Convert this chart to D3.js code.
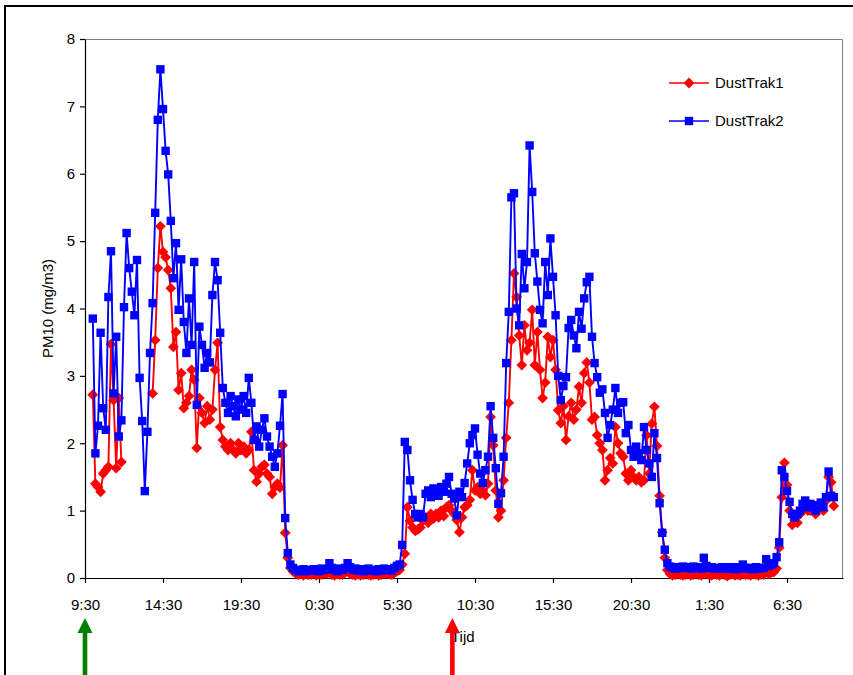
<!DOCTYPE html>
<html>
<head>
<meta charset="utf-8">
<title>PM10 DustTrak</title>
<script src="https://d3js.org/d3.v7.min.js"></script>
<style>
  body { margin: 0; background: #fff; }
  svg text { font-family: "Liberation Sans", Arial, sans-serif; font-size: 15px; fill: #000; }
</style>
</head>
<body>
<svg id="chart" width="853" height="675"></svg>
<script>
// time axis in hours after 9:30 on day 1, samples every 10 minutes from 10:00
const sampleStart = 0.5;
const sampleStep = 1 / 6;
const xMax = 48.59;

const xTicks = [0, 5, 10, 15, 20, 25, 30, 35, 40, 45];
const xTickLabels = ["9:30", "14:30", "19:30", "0:30", "5:30", "10:30", "15:30", "20:30", "1:30", "6:30"];
const yTicks = [0, 1, 2, 3, 4, 5, 6, 7, 8];

// start (green) and end (red) of something, in hours after 9:30
const arrowTimes = [0, 23.55];
const arrowColors = ["#008000", "#ff0000"];

const seriesNames = ["DustTrak1", "DustTrak2"];

// DustTrak1, one row per clock hour (null = no reading)
const dustTrak1 = [
  2.72, 1.4, 1.35, 1.28, 1.55, 1.6,      // 10:00
  1.65, 3.47, 2.64, 1.63, 2.67, 1.72,    // 11:00
  null, null, null, null, null, null,    // 12:00
  null, null, null, null, null, 2.74,    // 13:00
  3.53, 4.6, 5.22, 4.84, 4.76, 4.57,     // 14:00
  4.3, 3.43, 3.65, 2.79, 3.04, 2.52,     // 15:00
  2.6, 2.7, 3.09, 2.94, 1.93, 2.67,      // 16:00
  2.45, 2.3, 2.55, 2.35, 2.5, 3.09,      // 17:00
  3.49, 2.24, 2.05, 1.95, 1.9, 2.0,      // 18:00
  1.9, 1.85, 2.0, 1.9, 1.95, 1.85,       // 19:00
  1.9, 2.17, 1.6, 1.43, 1.55, 1.65,      // 20:00
  1.68, 1.55, 1.5, 1.25, 1.35, 1.4,      // 21:00
  1.34, 1.97, 0.67, 0.3, 0.15, 0.1,      // 22:00
  0.07, 0.05, 0.06, 0.04, 0.06, 0.05,    // 23:00
  0.05, 0.07, 0.04, 0.06, 0.05, 0.07,    // 0:00
  0.06, 0.1, 0.05, 0.04, 0.06, 0.05,     // 1:00
  0.05, 0.08, 0.12, 0.06, 0.05, 0.04,    // 2:00
  0.06, 0.04, 0.05, 0.07, 0.05, 0.04,    // 3:00
  0.05, 0.06, 0.04, 0.05, 0.07, 0.06,    // 4:00
  0.06, 0.05, 0.08, 0.1, 0.12, 0.2,      // 5:00
  0.36, 1.05, 0.85, 0.75, 0.7, 0.72,     // 6:00
  0.75, 0.85, 0.9, 0.82, 0.95, 0.88,     // 7:00
  0.95, 0.9, 1.0, 0.92, 1.05, 1.08,      // 8:00
  1.0, 0.95, 0.86, 0.68, 0.9, 1.05,      // 9:00
  1.08, 1.16, 1.6, 1.3, 1.35, 1.25,      // 10:00
  1.3, 1.23, 1.4, 2.39, 1.97, 1.3,       // 11:00
  0.9, 1.0, 1.45, 2.08, 2.6, 3.53,       // 12:00
  4.52, 4.17, 3.6, 3.16, 3.75, 3.38,     // 13:00
  3.49, 3.98, 3.16, 3.65, 3.09, 2.67,    // 14:00
  2.9, 3.58, 3.28, 3.53, 3.09, 2.49,     // 15:00
  2.3, 2.55, 2.05, 2.4, 2.6, 2.35,       // 16:00
  2.5, 2.84, 2.6, 3.04, 3.2, 2.9,        // 17:00
  2.35, 2.39, 2.12, 2.0, 1.9, 1.45,      // 18:00
  1.6, 1.78, 1.7, 2.24, 2.0, 1.85,       // 19:00
  1.8, 1.55, 1.45, 1.6, 1.5, 1.45,       // 20:00
  1.5, 1.42, 1.45, 2.12, 1.55, 2.29,     // 21:00
  2.54, 1.96, 1.22, 0.68, 0.3, 0.12,     // 22:00
  0.06, 0.04, 0.05, 0.07, 0.05, 0.04,    // 23:00
  0.05, 0.06, 0.04, 0.05, 0.07, 0.05,    // 0:00
  0.04, 0.08, 0.06, 0.05, 0.04, 0.06,    // 1:00
  0.05, 0.04, 0.06, 0.05, 0.03, 0.05,    // 2:00
  0.06, 0.04, 0.05, 0.04, 0.08, 0.05,    // 3:00
  0.05, 0.04, 0.06, 0.05, 0.04, 0.05,    // 4:00
  0.05, 0.1, 0.06, 0.08, 0.09, 0.14,     // 5:00
  0.45, 1.2, 1.71, 1.38, 1.0, 0.79,      // 6:00
  0.86, 0.82, 0.95, 1.0, 1.05, 1.0,      // 7:00
  1.0, 1.05, 0.95, 1.05, 1.1, 1.0,       // 8:00
  1.15, 1.5, 1.42, 1.07                  // 9:00
];

// DustTrak2
const dustTrak2 = [
  3.85, 1.85, 2.26, 3.64, 2.52, 2.2,     // 10:00
  4.17, 4.85, 2.74, 3.58, 2.1, 2.34,     // 11:00
  4.02, 5.12, 4.6, 4.25, 3.9, 4.72,      // 12:00
  2.97, 2.33, 1.29, 2.17, 3.34, 4.08,    // 13:00
  5.42, 6.8, 7.55, 6.96, 6.34, 5.99,     // 14:00
  5.3, 4.45, 4.97, 3.98, 4.73, 3.8,      // 15:00
  3.34, 4.15, 3.46, 4.69, 2.57, 3.73,    // 16:00
  3.46, 3.12, 3.34, 3.2, 4.2, 4.69,      // 17:00
  4.42, 3.64, 2.82, 2.6, 2.45, 2.7,      // 18:00
  2.55, 2.4, 2.65, 2.5, 2.7, 2.45,       // 19:00
  2.97, 2.6, 2.05, 2.25, 1.95, 2.2,      // 20:00
  2.37, 2.1, 1.95, 1.8, 1.65, 1.85,      // 21:00
  2.26, 2.73, 0.89, 0.37, 0.2, 0.15,     // 22:00
  0.12, 0.1, 0.11, 0.13, 0.1, 0.12,      // 23:00
  0.11, 0.13, 0.12, 0.1, 0.14, 0.12,     // 0:00
  0.13, 0.22, 0.15, 0.12, 0.1, 0.14,     // 1:00
  0.12, 0.15, 0.22, 0.16, 0.12, 0.14,    // 2:00
  0.11, 0.13, 0.1, 0.12, 0.14, 0.11,     // 3:00
  0.12, 0.1, 0.13, 0.11, 0.14, 0.12,     // 4:00
  0.13, 0.11, 0.15, 0.18, 0.2, 0.49,     // 5:00
  2.02, 1.9, 1.45, 1.16, 0.95, 0.9,      // 6:00
  0.95, 0.9, 1.25, 1.3, 1.2, 1.33,       // 7:00
  1.3, 1.22, 1.35, 1.28, 1.4, 1.5,       // 8:00
  1.25, 1.18, 0.93, 1.28, 1.2, 1.41,     // 9:00
  1.7, 2.0, 2.12, 2.22, 1.83, 1.55,      // 10:00
  1.41, 1.6, 1.8, 2.55, 2.08, 1.63,      // 11:00
  1.1, 1.26, 1.8, 3.19, 3.95, 5.65,      // 12:00
  5.71, 4.0, 3.75, 4.81, 4.3, 4.69,      // 13:00
  6.42, 5.73, 4.82, 4.4, 3.98, 3.78,     // 14:00
  4.69, 4.2, 5.04, 4.47, 3.9, 3.0,       // 15:00
  2.64, 2.85, 2.98, 3.71, 3.83, 3.6,     // 16:00
  3.41, 3.95, 3.7, 4.15, 4.39, 4.47,     // 17:00
  3.58, 3.19, 2.98, 2.75, 2.8, 2.45,     // 18:00
  2.08, 2.27, 2.5, 2.82, 2.45, 2.6,      // 19:00
  2.61, 2.15, 2.27, 1.9, 1.8, 1.95,      // 20:00
  1.85, 1.75, 2.24, 1.9, 1.7, 1.5,       // 21:00
  2.15, 1.78, 1.11, 0.67, 0.42, 0.22,    // 22:00
  0.17, 0.15, 0.14, 0.16, 0.15, 0.17,    // 23:00
  0.15, 0.16, 0.14, 0.17, 0.15, 0.16,    // 0:00
  0.14, 0.3, 0.18, 0.15, 0.16, 0.14,     // 1:00
  0.15, 0.14, 0.16, 0.15, 0.14, 0.16,    // 2:00
  0.15, 0.13, 0.16, 0.14, 0.2, 0.15,     // 3:00
  0.14, 0.15, 0.13, 0.16, 0.14, 0.15,    // 4:00
  0.15, 0.28, 0.18, 0.2, 0.22, 0.31,     // 5:00
  0.53, 1.6, 1.5, 1.29, 1.13, 0.95,      // 6:00
  0.9, 0.95, 1.0, 1.1, 1.15, 1.05,       // 7:00
  1.1, 1.05, 1.0, 1.08, 1.12, 1.05,      // 8:00
  1.2, 1.58, 1.22, 1.2                   // 9:00
];

const svg = d3.select("#chart");
const margin = { top: 39, right: 10, bottom: 97, left: 85 };
const width = 853 - margin.left - margin.right;
const height = 675 - margin.top - margin.bottom;

// outer frame of the chart object (runs past the bottom/right of the picture)
svg.append("rect")
  .attr("x", 5).attr("y", 6)
  .attr("width", 900).attr("height", 900)
  .attr("fill", "none")
  .attr("stroke", "#000")
  .attr("stroke-width", 2);

const x = d3.scaleLinear().domain([0, xMax]).range([0, width]);
const y = d3.scaleLinear().domain([0, 8]).range([height, 0]);

const plot = svg.append("g")
  .attr("transform", "translate(" + margin.left + "," + margin.top + ")");

// grey plot-area border on top and right
plot.append("path")
  .attr("d", "M0,0.5H" + (width - 0.5) + "V" + height)
  .attr("fill", "none")
  .attr("stroke", "#808080")
  .attr("stroke-width", 1);

const yAxis = plot.append("g")
  .call(d3.axisLeft(y).tickValues(yTicks).tickSize(5).tickSizeOuter(0).tickPadding(5));
const xAxis = plot.append("g")
  .attr("transform", "translate(0," + height + ")")
  .call(d3.axisBottom(x).tickValues(xTicks).tickFormat((d, i) => xTickLabels[i])
    .tickSize(5).tickSizeOuter(0).tickPadding(16));

[yAxis, xAxis].forEach((g) => {
  g.attr("font-size", null).attr("font-family", null);
  g.select(".domain").attr("stroke", "#000").attr("stroke-width", 1.2);
  g.selectAll(".tick line").attr("stroke", "#000").attr("stroke-width", 1.2);
  g.selectAll(".tick text").attr("fill", "#000");
});

svg.append("text")
  .attr("transform", "translate(48," + (margin.top + height / 2) + ") rotate(-90)")
  .attr("text-anchor", "middle")
  .attr("dy", "0.35em")
  .text("PM10 (mg/m3)");

svg.append("text")
  .attr("x", 451)
  .attr("y", 642)
  .text("Tijd");

// build series
const toPoints = (vals) => vals.map((v, i) => ({ t: sampleStart + i * sampleStep, v: v }));
const series = [
  { name: seriesNames[0], color: "#ff0000", shape: "diamond", points: toPoints(dustTrak1) },
  { name: seriesNames[1], color: "#0000ff", shape: "square", points: toPoints(dustTrak2) }
];

const line = d3.line()
  .defined((d) => d.v !== null)
  .x((d) => x(d.t))
  .y((d) => y(d.v));

const diamond = "M0,-5.4L5.4,0L0,5.4L-5.4,0Z";
const square = "M-4.2,-4.2H4.2V4.2H-4.2Z";

series.forEach((s) => {
  const g = plot.append("g");
  g.append("path")
    .datum(s.points)
    .attr("fill", "none")
    .attr("stroke", s.color)
    .attr("stroke-width", 1.9)
    .attr("stroke-linejoin", "round")
    .attr("d", line);
  g.selectAll("path.marker")
    .data(s.points.filter((d) => d.v !== null))
    .join("path")
    .attr("class", "marker")
    .attr("d", s.shape === "diamond" ? diamond : square)
    .attr("fill", s.color)
    .attr("transform", (d) => "translate(" + x(d.t) + "," + y(d.v) + ")");
});

// legend
const legend = svg.append("g").attr("transform", "translate(669,83)");
series.forEach((s, i) => {
  const row = legend.append("g").attr("transform", "translate(0," + i * 38 + ")");
  row.append("line")
    .attr("x1", 0).attr("x2", 40)
    .attr("stroke", s.color).attr("stroke-width", 1.6);
  row.append("path")
    .attr("d", s.shape === "diamond" ? diamond : square)
    .attr("fill", s.color)
    .attr("transform", "translate(20,0)");
  row.append("text")
    .attr("x", 46)
    .attr("dy", "0.35em")
    .text(s.name);
});

// arrows under the time axis
arrowTimes.forEach((t, i) => {
  const cx = margin.left + x(t);
  svg.append("path")
    .attr("d",
      "M" + cx + ",618" +
      "L" + (cx + 7.5) + ",633" +
      "L" + (cx + 2.3) + ",633" +
      "L" + (cx + 2.3) + ",676" +
      "L" + (cx - 2.3) + ",676" +
      "L" + (cx - 2.3) + ",633" +
      "L" + (cx - 7.5) + ",633Z")
    .attr("fill", arrowColors[i]);
});
</script>
</body>
</html>
